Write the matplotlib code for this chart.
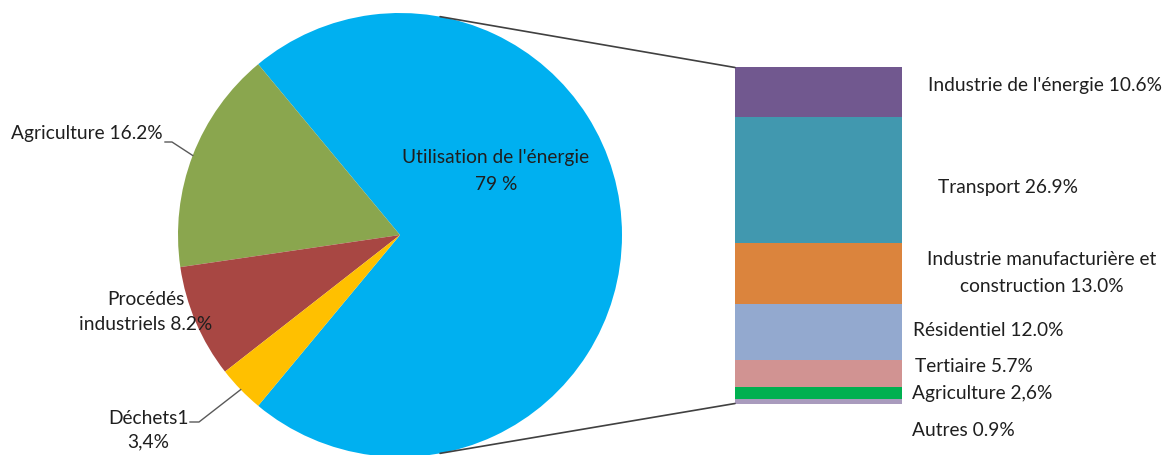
import numpy as np
import matplotlib
matplotlib.use("Agg")
import matplotlib.pyplot as plt
from matplotlib.patches import ConnectionPatch
from matplotlib.lines import Line2D

# ---- data ----
pie_labels = ["Utilisation de l'énergie\n79 %", "Agriculture 16.2%",
              "Procédés\nindustriels 8.2%", "Déchets1\n3,4%"]
pie_other = [16.2, 8.2, 3.4]          # Agriculture, Procédés, Déchets
pie_colors = ["#00B0F0", "#8AA64E", "#A84743", "#FFC000"]

bar_labels = ["Industrie de l'énergie 10.6%", "Transport 26.9%",
              "Industrie manufacturière et\nconstruction 13.0%",
              "Résidentiel 12.0%", "Tertiaire 5.7%", "Agriculture 2,6%",
              "Autres 0.9%"]
bar_values = [10.6, 26.9, 13.0, 12.0, 5.7, 2.6, 0.9]   # top to bottom
bar_colors = ["#71588F", "#4198AF", "#DB843D", "#93A9CF", "#D19392",
              "#00B050", "#A99BBD"]

plt.rcParams['font.family'] = ['Lato', 'DejaVu Sans']
FS = 13.8
TXT = '#1f1f1f'

W, H = 1168, 455
fig = plt.figure(figsize=(W / 100, H / 100), dpi=100)

# ---- pie ----
cx, cy, R = 400, 235, 222
axp = fig.add_axes([(cx - R) / W, (H - cy - R) / H, 2 * R / W, 2 * R / H])
energy_total = sum(bar_values)
pie_vals = [energy_total] + pie_other
start = -energy_total / sum(pie_vals) * 360 / 2
wedges, _ = axp.pie(pie_vals, colors=pie_colors, startangle=start,
                    counterclock=True, radius=1, center=(0, 0),
                    wedgeprops=dict(linewidth=0))
axp.set_xlim(-1, 1)
axp.set_ylim(-1, 1)
axp.set_aspect('equal')
axp.axis('off')

def fpx(x, y):
    return x / W, 1 - y / H

def px2pie(x, y):
    return (x - cx) / R, (cy - y) / R

# pie labels
fig.text(*fpx(496, 171), pie_labels[0], ha='center', va='center',
         fontsize=FS, color=TXT, linespacing=1.65)
fig.text(*fpx(163, 133), pie_labels[1], ha='right', va='center',
         fontsize=FS, color=TXT)
fig.text(*fpx(146, 312), pie_labels[2], ha='center', va='center',
         fontsize=FS, color=TXT, linespacing=1.52)
fig.text(*fpx(148, 430), pie_labels[3], ha='center', va='center',
         fontsize=FS, color=TXT, linespacing=1.46)

# leader lines to wedge mid-angles
def leader(wedge, start_px, kink_px):
    mid = np.deg2rad((wedge.theta1 + wedge.theta2) / 2)
    p0 = px2pie(*start_px)
    p1 = px2pie(*kink_px)
    axp.add_line(Line2D([p0[0], p1[0], np.cos(mid)], [p0[1], p1[1], np.sin(mid)],
                        color='#595959', lw=1.0, clip_on=False))

leader(wedges[1], (165, 142), (172, 142))
leader(wedges[3], (190, 422), (199, 422))

# ---- bar ----
bx0, bx1, by0, by1 = 735, 902, 67.5, 403.5
axb = fig.add_axes([bx0 / W, (H - by1) / H, (bx1 - bx0) / W, (by1 - by0) / H])
bottoms = np.concatenate([[0], np.cumsum(bar_values[::-1])[:-1]])[::-1]
axb.bar(0.5, bar_values, width=1, bottom=bottoms, color=bar_colors, linewidth=0)
axb.set_xlim(0, 1)
axb.set_ylim(0, energy_total)
axb.axis('off')

# connector lines
ang = np.deg2rad(79.6)
for sgn, yb in ((1, energy_total), (-1, 0)):
    con = ConnectionPatch(xyA=(np.cos(ang), sgn * np.sin(ang)), coordsA=axp.transData,
                          xyB=(0, yb), coordsB=axb.transData,
                          color='#404040', lw=1.2)
    fig.add_artist(con)

# bar labels
bar_label_pos = [(928, 86, 'left'), (938, 187, 'left'), (1042, 273, 'center'),
                 (913, 331, 'left'), (915, 367, 'left'), (912, 393, 'left'),
                 (912, 430, 'left')]
for lab, (x, y, ha) in zip(bar_labels, bar_label_pos):
    fig.text(*fpx(x, y), lab, ha=ha, va='center', fontsize=FS, color=TXT,
             linespacing=1.65)

fig.savefig("out.png", dpi=100)
